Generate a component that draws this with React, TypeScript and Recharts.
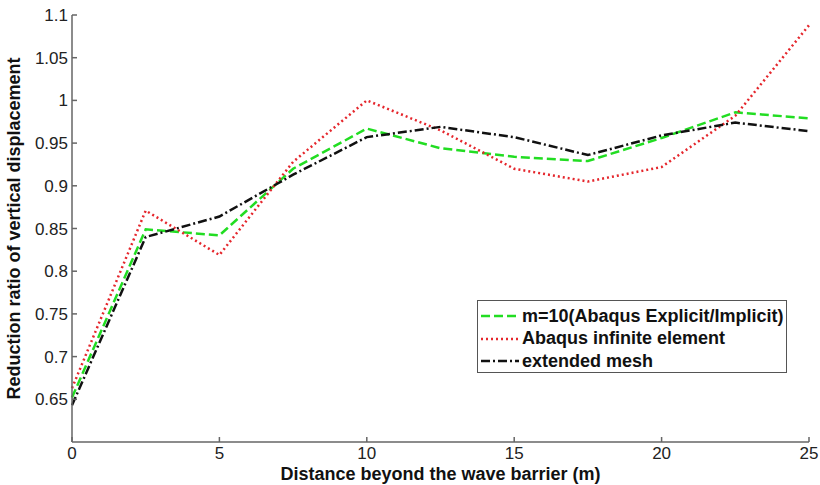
import React from "react";
import { CartesianGrid, Legend, Line, LineChart, XAxis, YAxis } from "recharts";

// distance behind the barrier (m)
const distance = [0, 2.5, 5, 7.5, 10, 12.5, 15, 17.5, 20, 22.5, 25];

// reduction ratio of vertical displacement for each model
const explicitImplicit = [0.652, 0.849, 0.842, 0.92, 0.967, 0.944, 0.934, 0.929, 0.956, 0.986, 0.979];
const infiniteElement = [0.663, 0.871, 0.819, 0.928, 1.0, 0.965, 0.92, 0.905, 0.922, 0.982, 1.088];
const extendedMesh = [0.643, 0.84, 0.864, 0.913, 0.957, 0.969, 0.957, 0.936, 0.959, 0.974, 0.964];

const xTicks = [0, 5, 10, 15, 20, 25];
const yTicks = [0.65, 0.7, 0.75, 0.8, 0.85, 0.9, 0.95, 1, 1.05, 1.1];

const series = [
  { key: "explicit", name: "m=10(Abaqus Explicit/Implicit)", color: "#22dd22", dash: "9 4" },
  { key: "infinite", name: "Abaqus infinite element", color: "#e5262c", dash: "2 3" },
  { key: "extended", name: "extended mesh", color: "#111111", dash: "9 3 2 3" },
];

const data = distance.map((x, i) => ({
  x,
  explicit: explicitImplicit[i],
  infinite: infiniteElement[i],
  extended: extendedMesh[i],
}));

const FONT = "'Liberation Sans', Arial, sans-serif";
const AXIS = "#666666";

const fmt = (v: number) => String(Number(v.toFixed(2)));

function LegendBox() {
  return (
    <div
      style={{
        width: 310,
        height: 73,
        border: "1px solid #555",
        background: "#fff",
        fontFamily: FONT,
        fontWeight: "bold",
        fontSize: 18,
        color: "#111",
        boxSizing: "border-box",
        padding: "4px 0 0 2px",
      }}
    >
      {series.map((s) => (
        <div key={s.key} style={{ display: "flex", alignItems: "center", height: 22.5 }}>
          <svg width={40} height={10} style={{ marginRight: 2 }}>
            <line x1={1} y1={5} x2={39} y2={5} stroke={s.color} strokeWidth={2.5} strokeDasharray={s.dash} />
          </svg>
          <span>{s.name}</span>
        </div>
      ))}
    </div>
  );
}

export default function App() {
  return (
    <div style={{ position: "absolute", left: 0, top: 0, background: "#fff" }}>
      <LineChart width={820} height={485} data={data} margin={{ top: 15, right: 11, left: 0, bottom: 0 }}>
        <CartesianGrid stroke="none" />
        <XAxis
          dataKey="x"
          type="number"
          domain={[0, 25]}
          ticks={xTicks}
          height={43}
          stroke={AXIS}
          strokeWidth={1.5}
          tickSize={-5}
          tickMargin={10}
          tick={{ fill: "#222", fontSize: 17, fontFamily: FONT }}
          label={{
            value: "Distance beyond the wave barrier (m)",
            position: "insideBottom",
            offset: 5,
            style: { fontFamily: FONT, fontWeight: "bold", fontSize: 18, fill: "#111" },
          }}
        />
        <XAxis
          xAxisId="top"
          orientation="top"
          type="number"
          domain={[0, 25]}
          ticks={xTicks}
          height={0}
          stroke={AXIS}
          strokeWidth={1.5}
          tickSize={-5}
          tick={false}
        />
        <YAxis
          type="number"
          domain={[0.6, 1.1]}
          ticks={yTicks}
          width={72}
          stroke={AXIS}
          strokeWidth={1.5}
          tickSize={-5}
          tickMargin={9}
          tickFormatter={fmt}
          tick={{ fill: "#222", fontSize: 17, fontFamily: FONT }}
          label={{
            value: "Reduction ratio of vertical displacement",
            angle: -90,
            position: "insideLeft",
            offset: 14,
            style: { textAnchor: "middle", fontFamily: FONT, fontWeight: "bold", fontSize: 18, fill: "#111" },
          }}
        />
        <YAxis
          yAxisId="right"
          orientation="right"
          type="number"
          domain={[0.6, 1.1]}
          ticks={yTicks}
          width={0}
          stroke={AXIS}
          strokeWidth={1.5}
          tickSize={-5}
          tick={false}
        />
        {series.map((s) => (
          <Line
            key={s.key}
            type="linear"
            dataKey={s.key}
            name={s.name}
            stroke={s.color}
            strokeWidth={2.5}
            strokeDasharray={s.dash}
            dot={false}
            activeDot={false}
            isAnimationActive={false}
          />
        ))}
        <Legend
          layout="vertical"
          align="center"
          verticalAlign="middle"
          wrapperStyle={{ left: 477, top: 300, width: 310 }}
          content={() => <LegendBox />}
        />
      </LineChart>
    </div>
  );
}
